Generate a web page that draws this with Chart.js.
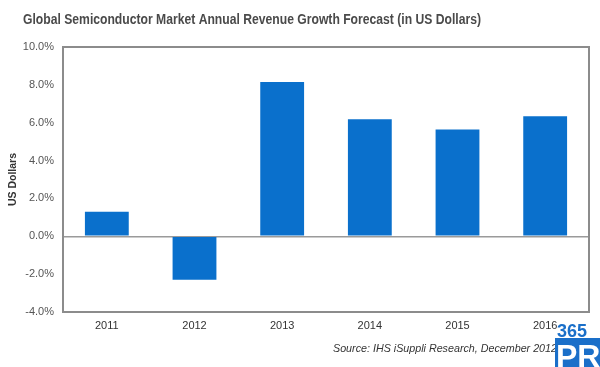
<!DOCTYPE html>
<html>
<head>
<meta charset="utf-8">
<script src="https://cdn.jsdelivr.net/npm/chart.js@4/dist/chart.umd.min.js"></script>
<style>
  body { margin: 0; background: #fff; }
  canvas { display: block; }
</style>
</head>
<body>
<canvas id="growthChart" width="600" height="367"></canvas>
<script>
const years = ["2011", "2012", "2013", "2014", "2015", "2016"];
const growth = [1.3, -2.3, 8.15, 6.18, 5.64, 6.34];
const yTicks = [-4, -2, 0, 2, 4, 6, 8, 10];

const titleText = "Global Semiconductor Market Annual Revenue Growth Forecast (in US Dollars)";
const sourceText = "Source: IHS iSuppli Research, December 2012";

const fontFamily = "'Liberation Sans', Arial, sans-serif";

// frame, title, source line and the logo in the corner
const decorations = {
  id: "decorations",
  afterDraw(chart) {
    const ctx = chart.ctx;
    const area = chart.chartArea;
    ctx.save();

    ctx.strokeStyle = "#8c8c8c";
    ctx.lineWidth = 2;
    ctx.strokeRect(area.left, area.top, area.right - area.left, area.bottom - area.top);

    ctx.fillStyle = "#4a4a4a";
    ctx.font = "bold 14px " + fontFamily;
    ctx.textBaseline = "alphabetic";
    ctx.textAlign = "left";
    ctx.fillText(titleText, 23, 24, 458);

    ctx.fillStyle = "#333";
    ctx.font = "italic 11px " + fontFamily;
    ctx.textAlign = "right";
    ctx.fillText(sourceText, 557, 352, 224);

    ctx.fillStyle = "#1a6fc9";
    ctx.font = "bold 18px " + fontFamily;
    ctx.textAlign = "left";
    ctx.fillText("365", 557, 337, 35);
    ctx.fillRect(555, 338, 45, 29);
    ctx.fillStyle = "#fff";
    ctx.font = "bold 32px " + fontFamily;
    ctx.fillText("PR", 556, 367, 46);

    ctx.restore();
  },
};

new Chart(document.getElementById("growthChart"), {
  type: "bar",
  data: {
    labels: years,
    datasets: [
      {
        label: "Revenue growth",
        data: growth,
        backgroundColor: "#0a70cc",
        categoryPercentage: 1,
        barPercentage: 0.5,
      },
    ],
  },
  options: {
    responsive: false,
    animation: false,
    devicePixelRatio: 1,
    layout: { padding: { left: 0, right: 11, top: 47, bottom: 30 } },
    plugins: {
      legend: { display: false },
      tooltip: { enabled: false },
    },
    scales: {
      x: {
        grid: { display: false, drawTicks: false },
        border: { display: false },
        ticks: {
          padding: 7,
          color: "#333",
          font: { family: fontFamily, size: 11 },
        },
        afterFit(scale) {
          scale.height = 25;
        },
      },
      y: {
        min: -4,
        max: 10,
        afterBuildTicks(scale) {
          scale.ticks = yTicks.map((v) => ({ value: v }));
        },
        grid: {
          drawTicks: false,
          lineWidth: 1.5,
          color: (c) => (c.tick && c.tick.value === 0 ? "#9a9a9a" : "transparent"),
        },
        border: { display: false },
        ticks: {
          padding: 9,
          color: "#555",
          font: { family: fontFamily, size: 11 },
          callback: (v) => v.toFixed(1) + "%",
        },
        title: {
          display: true,
          text: "US Dollars",
          color: "#333",
          padding: { top: 7, bottom: 0 },
          font: { family: fontFamily, size: 10.5, weight: "bold" },
        },
        afterFit(scale) {
          scale.width = 63;
        },
      },
    },
  },
  plugins: [decorations],
});
</script>
</body>
</html>
